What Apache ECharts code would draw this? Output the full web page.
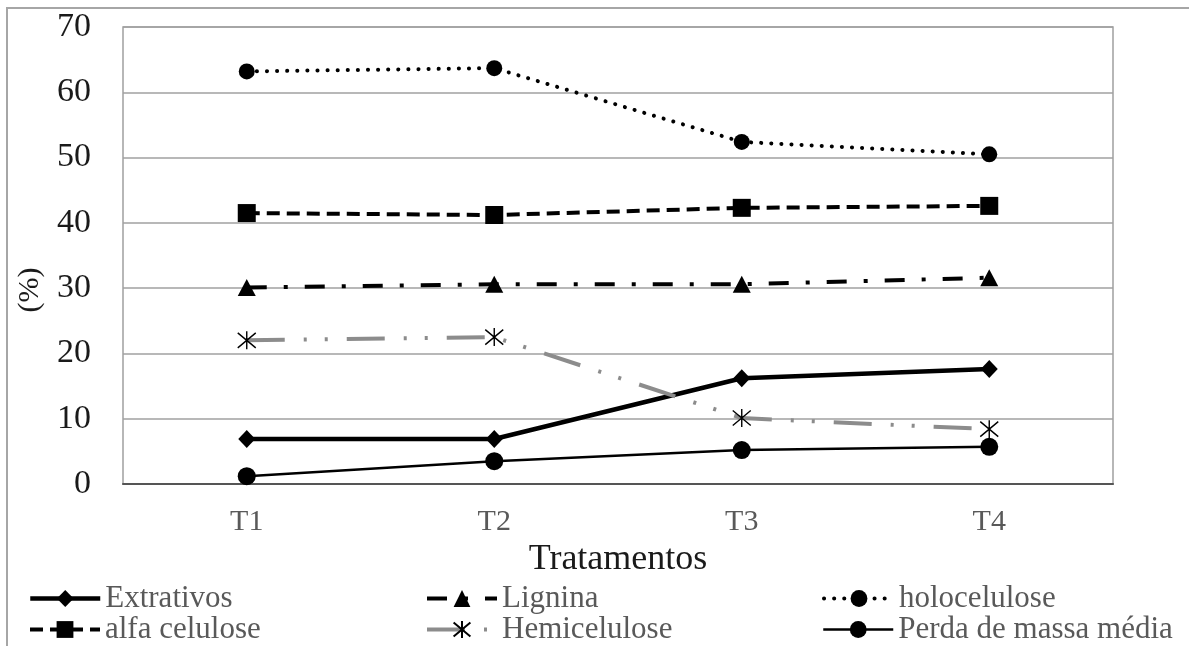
<!DOCTYPE html>
<html>
<head>
<meta charset="utf-8">
<script src="https://cdn.jsdelivr.net/npm/echarts@6/dist/echarts.min.js"></script>
<style>
  html, body { margin: 0; padding: 0; background: #fff; }
  #chart { width: 1189px; height: 646px; }
</style>
</head>
<body>
<div id="chart"></div>
<script>
// Treatments on the category axis
const categories = ['T1', 'T2', 'T3', 'T4'];

// Composition values (%) per treatment
const extrativos   = [6.9, 6.9, 16.2, 17.6];
const lignina      = [30.1, 30.6, 30.6, 31.6];
const holocelulose = [63.2, 63.7, 52.4, 50.5];
const alfaCelulose = [41.5, 41.2, 42.3, 42.6];
const hemicelulose = [22.0, 22.5, 10.1, 8.4];
const perdaMassa   = [1.2, 3.5, 5.2, 5.7];

// Value axis range
const yMin = 0;
const yMax = 70;
const yStep = 10;

const FONT = '"Liberation Serif", "Times New Roman", serif';
const asterisk = 'path://M0,0L20,20M20,0L0,20M10,-2L10,22';

function lineSeries(name, data, opts) {
  return Object.assign({
    name: name,
    type: 'line',
    data: data,
    symbolSize: 16,
    showSymbol: true,
    animation: false
  }, opts);
}

const series = [
  lineSeries('Extrativos', extrativos, {
    symbol: 'diamond', symbolSize: [17, 18],
    itemStyle: { color: '#000' },
    lineStyle: { color: '#000', width: 4.5 }
  }),
  lineSeries('Lignina', lignina, {
    symbol: 'triangle', symbolSize: [18, 17],
    itemStyle: { color: '#000' },
    lineStyle: { color: '#000', width: 4, type: [20, 17, 4, 17] }
  }),
  lineSeries('holocelulose', holocelulose, {
    symbol: 'circle', symbolSize: 16,
    itemStyle: { color: '#000' },
    lineStyle: { color: '#000', width: 4, type: [0.1, 10], cap: 'round' }
  }),
  lineSeries('alfa celulose', alfaCelulose, {
    symbol: 'rect', symbolSize: 18,
    itemStyle: { color: '#000' },
    lineStyle: { color: '#000', width: 4, type: [13, 7] }
  }),
  lineSeries('Hemicelulose', hemicelulose, {
    symbol: asterisk, symbolSize: 18,
    itemStyle: { color: 'rgba(0,0,0,0)', borderColor: '#000', borderWidth: 1.4 },
    lineStyle: { color: '#8c8c8c', width: 4, type: [38, 19, 3, 18, 3, 19] }
  }),
  lineSeries('Perda de massa média', perdaMassa, {
    symbol: 'circle', symbolSize: 18,
    itemStyle: { color: '#000' },
    lineStyle: { color: '#000', width: 2.5 }
  })
];

// Legend laid out in two rows of three entries
const legendCols = [28, 425, 822];
const legendRows = [583, 614];
const legendOrder = [
  ['Extrativos', 'Lignina', 'holocelulose'],
  ['alfa celulose', 'Hemicelulose', 'Perda de massa média']
];
const legendIconWidth = {
  'Extrativos': 4.5, 'Lignina': 4, 'holocelulose': 4,
  'alfa celulose': 4, 'Hemicelulose': 4, 'Perda de massa média': 2.5
};
const legends = [];
legendOrder.forEach(function (row, r) {
  row.forEach(function (name, c) {
    legends.push({
      data: [name],
      left: legendCols[c],
      top: legendRows[r],
      padding: 0,
      itemWidth: 70,
      itemHeight: 21,
      selectedMode: false,
      lineStyle: { width: legendIconWidth[name] },
      textStyle: { fontFamily: FONT, fontSize: 31, color: '#595959' }
    });
  });
});

const chart = echarts.init(document.getElementById('chart'), null, { renderer: 'canvas' });
chart.setOption({
  backgroundColor: '#fff',
  animation: false,
  grid: {
    left: 123, right: 76, top: 27, bottom: 162,
    show: true, borderColor: '#a0a0a0', borderWidth: 1.5
  },
  legend: legends,
  xAxis: {
    type: 'category',
    data: categories,
    boundaryGap: true,
    name: 'Tratamentos',
    nameLocation: 'middle',
    nameGap: 40,
    nameTextStyle: { fontFamily: FONT, fontSize: 36, color: '#1a1a1a' },
    axisLine: { lineStyle: { color: '#555', width: 2 } },
    axisTick: { show: false },
    axisLabel: { fontFamily: FONT, fontSize: 30, color: '#595959', margin: 23 }
  },
  yAxis: {
    type: 'value',
    min: yMin, max: yMax, interval: yStep,
    axisLine: { show: false },
    axisTick: { show: false },
    splitLine: { lineStyle: { color: '#a0a0a0', width: 1.5 } },
    axisLabel: { fontFamily: FONT, fontSize: 34, color: '#1a1a1a', margin: 32 }
  },
  graphic: [
    {
      type: 'polyline',
      shape: { points: [[7, 646], [7, 8], [1189, 8]] },
      style: { stroke: '#a6a6a6', lineWidth: 2, fill: null },
      silent: true
    },
    {
      type: 'text',
      x: 30, y: 290,
      rotation: Math.PI / 2,
      style: {
        text: '(%)', fontFamily: FONT, fontSize: 30, fill: '#1a1a1a',
        align: 'center', verticalAlign: 'middle'
      },
      silent: true
    }
  ],
  series: series
});
</script>
</body>
</html>
